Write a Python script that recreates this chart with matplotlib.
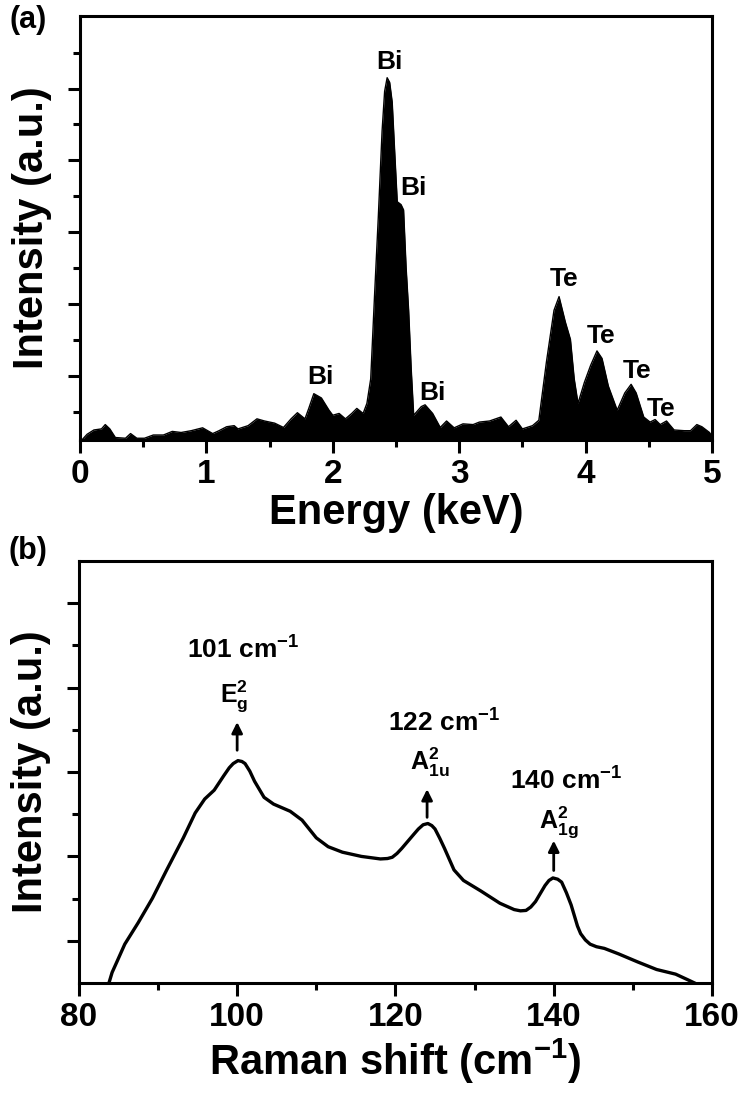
import matplotlib
matplotlib.use('Agg')
import matplotlib.pyplot as plt
from matplotlib.ticker import MultipleLocator, FixedLocator, NullFormatter

plt.rcParams['font.family'] = 'Liberation Sans'
plt.rcParams['font.weight'] = 'bold'
plt.rcParams['mathtext.fontset'] = 'custom'
plt.rcParams['mathtext.rm'] = 'Liberation Sans:bold'
plt.rcParams['mathtext.bf'] = 'Liberation Sans:bold'
plt.rcParams['mathtext.it'] = 'Liberation Sans:bold'

# (a) EDS spectrum
energy = [0.0, 0.02, 0.056, 0.11, 0.17, 0.2, 0.236, 0.28, 0.36, 0.40, 0.45, 0.51, 0.58, 0.66,
          0.73, 0.80, 0.88, 0.97, 1.05, 1.10, 1.16, 1.22, 1.25, 1.33, 1.40, 1.46, 1.54, 1.61,
          1.67, 1.72, 1.78, 1.81, 1.85, 1.91, 1.97, 2.00, 2.05, 2.10, 2.15, 2.19, 2.24, 2.27,
          2.30, 2.33, 2.36, 2.39, 2.41, 2.43, 2.45, 2.47, 2.49, 2.51, 2.54, 2.56, 2.58, 2.60,
          2.62, 2.64, 2.70, 2.73, 2.79, 2.85, 2.90, 2.96, 3.03, 3.11, 3.16, 3.24, 3.33, 3.39,
          3.45, 3.50, 3.58, 3.63, 3.69, 3.75, 3.79, 3.84, 3.88, 3.91, 3.94, 3.99, 4.04, 4.09,
          4.13, 4.18, 4.25, 4.31, 4.36, 4.40, 4.46, 4.51, 4.55, 4.59, 4.64, 4.70, 4.78, 4.83,
          4.88, 4.92, 4.98, 5.0]
counts = [0, 2, 16, 28, 31, 43, 31, 7, 5, 18, 5, 5, 14, 14,
          24, 21, 26, 34, 18, 26, 37, 40, 31, 40, 59, 53, 47, 35,
          59, 76, 59, 88, 129, 117, 83, 69, 74, 59, 74, 88, 74, 102,
          170, 400, 620, 860, 970, 1008, 995, 940, 800, 663, 655, 640, 480, 361,
          200, 69, 93, 98, 74, 35, 53, 34, 45, 43, 50, 53, 64, 37,
          55, 31, 40, 55, 217, 361, 399, 328, 280, 170, 102, 160, 208, 248,
          227, 150, 83, 131, 155, 131, 64, 50, 57, 43, 53, 28, 26, 26,
          43, 37, 21, 10]
eds_labels = ['Bi', 'Bi', 'Bi', 'Bi', 'Te', 'Te', 'Te', 'Te']
eds_label_x = [2.45, 2.64, 1.90, 2.79, 3.83, 4.12, 4.41, 4.60]
eds_label_y = [1051, 701, 174, 131, 449, 289, 191, 85]

# (b) Raman spectrum
shift = [83.8, 84.2, 84.8, 85.8, 87.5, 89.3, 91.1, 93.2, 94.7, 95.9, 97.1, 98.3, 99.0,
         99.5, 100.1, 100.6, 101.0, 101.6, 102.2, 103.4, 104.6, 106.7, 108.2, 110.0,
         111.5, 113.3, 115.7, 118.1, 119.0, 119.6, 120.2, 120.8, 122.3, 122.9, 123.5,
         124.1, 124.6, 125.0, 125.6, 126.2, 127.4, 128.6, 130.8, 133.2, 135.0, 135.8,
         136.5, 137.1, 137.7, 138.9, 139.4, 139.9, 140.5, 141.0, 141.6, 142.2, 143.0,
         143.4, 144.0, 144.6, 145.4, 146.4, 148.2, 150.6, 153.0, 155.4, 156.9, 157.8]
raman = [0.0, 0.25, 0.50, 0.92, 1.43, 2.01, 2.68, 3.44, 4.03, 4.36, 4.57, 4.91, 5.10,
         5.20, 5.27, 5.25, 5.20, 5.02, 4.78, 4.40, 4.24, 4.07, 3.86, 3.44,
         3.23, 3.10, 3.00, 2.94, 2.95, 2.98, 3.07, 3.19, 3.52, 3.65, 3.75,
         3.78, 3.73, 3.65, 3.43, 3.19, 2.68, 2.43, 2.18, 1.89, 1.74, 1.71,
         1.72, 1.80, 1.93, 2.31, 2.43, 2.49, 2.46, 2.39, 2.14, 1.85, 1.35,
         1.17, 1.02, 0.92, 0.86, 0.82, 0.69, 0.50, 0.32, 0.21, 0.08, 0.0]
peak_pos = [100, 124, 140]
peak_base = [5.45, 3.86, 2.60]
peak_tip = [6.25, 4.66, 3.44]
peak_text = ['101 cm$^{-1}$', '122 cm$^{-1}$', '140 cm$^{-1}$']
peak_text_xy = [(100.7, 7.9), (126.2, 6.17), (141.6, 4.78)]
mode_text = [r'E$_{g}^{2}$', r'A$_{1u}^{2}$', r'A$_{1g}^{2}$']
mode_text_xy = [(99.6, 6.8), (124.4, 5.24), (140.7, 3.82)]

fig = plt.figure(figsize=(7.44, 10.96), dpi=100)
ax1 = fig.add_axes([0.1075, 0.5985, 0.8495, 0.387])
ax2 = fig.add_axes([0.106, 0.1031, 0.851, 0.385])

for ax in (ax1, ax2):
    for s in ax.spines.values():
        s.set_linewidth(2.2)
    ax.tick_params(which='major', direction='out', length=9, width=2.2, labelsize=24, pad=5)
    ax.tick_params(which='minor', direction='out', length=5, width=2.2)
    ax.tick_params(top=False, right=False, which='both')

ax1.fill_between(energy, counts, 0, color='black', lw=0)
ax1.plot(energy, counts, color='black', lw=1)
ax1.set_xlim(0, 5)
ax1.set_ylim(0, 1180)
ax1.xaxis.set_major_locator(MultipleLocator(1))
ax1.xaxis.set_minor_locator(MultipleLocator(0.5))
ax1.yaxis.set_major_locator(FixedLocator([178, 378, 578, 778, 978]))
ax1.yaxis.set_minor_locator(FixedLocator([78, 278, 478, 678, 878, 1078]))
ax1.yaxis.set_major_formatter(NullFormatter())
ax1.set_xlabel('Energy (keV)', fontsize=30, fontweight='bold', labelpad=2)
ax1.set_ylabel('Intensity (a.u.)', fontsize=30, fontweight='bold', labelpad=6)
for t, x, y in zip(eds_labels, eds_label_x, eds_label_y):
    ax1.text(x, y, t, fontsize=19, fontweight='bold', ha='center', va='center')

ax2.plot(shift, raman, color='black', lw=2.4)
ax2.set_xlim(80, 160)
ax2.set_ylim(0, 10)
ax2.xaxis.set_major_locator(MultipleLocator(20))
ax2.xaxis.set_minor_locator(MultipleLocator(10))
ax2.yaxis.set_major_locator(FixedLocator([1, 3, 5, 7, 9]))
ax2.yaxis.set_minor_locator(FixedLocator([2, 4, 6, 8]))
ax2.yaxis.set_major_formatter(NullFormatter())
ax2.set_xlabel('Raman shift (cm$^{-1}$)', fontsize=30, fontweight='bold', labelpad=2)
ax2.set_ylabel('Intensity (a.u.)', fontsize=30, fontweight='bold', labelpad=6)
for x, b, t in zip(peak_pos, peak_base, peak_tip):
    ax2.annotate('', xy=(x, t), xytext=(x, b),
                 arrowprops=dict(arrowstyle='-|>', color='black', lw=2, mutation_scale=16))
for t, (x, y) in zip(peak_text, peak_text_xy):
    ax2.text(x, y, t, fontsize=19, fontweight='bold', ha='center', va='center')
for t, (x, y) in zip(mode_text, mode_text_xy):
    ax2.text(x, y, t, fontsize=18, fontweight='bold', ha='center', va='center')

fig.text(0.038, 0.982, '(a)', fontsize=22, fontweight='bold', ha='center', va='center')
fig.text(0.038, 0.497, '(b)', fontsize=22, fontweight='bold', ha='center', va='center')

fig.savefig('out.png', dpi=100)
